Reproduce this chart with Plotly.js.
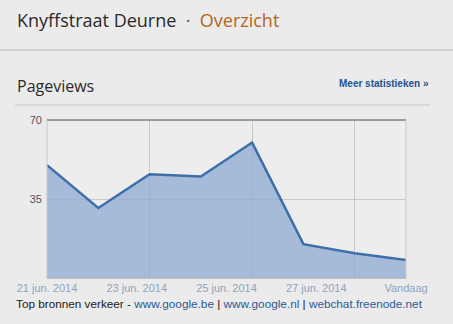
<!DOCTYPE html>
<html><head><meta charset="utf-8">
<script src="https://cdn.plot.ly/plotly-3.0.1.min.js"></script>
<style>html,body{margin:0;padding:0;background:#ebebeb;}#c{width:453px;height:324px;}</style>
</head><body><div id="c"></div>
<script>
var dayIndex = [0, 1, 2, 3, 4, 5, 6, 7];
var pageviews = [50, 31, 46, 45, 60, 15, 11, 8];
var tickPos = [0, 1.75, 3.5, 5.25, 7];
var tickLabels = ['21 jun. 2014', '23 jun. 2014', '25 jun. 2014', '27 jun. 2014', 'Vandaag'];
var gridPos = [2, 4, 6];
var yTicks = [35, 70];

var trace = {
  x: dayIndex, y: pageviews, type: 'scatter', mode: 'lines',
  fill: 'tozeroy', fillcolor: 'rgba(140,170,210,0.75)',
  line: {color: '#3f6fa8', width: 2.5}, hoverinfo: 'none'
};
var gridTrace = {x: gridPos, y: [0, 0, 0], xaxis: 'x2', type: 'scatter', mode: 'markers',
  marker: {opacity: 0}, hoverinfo: 'none'};
var H = 158, W = 359;
function py(pix) { return (324 - 46 - pix) / H; }
function px(pix) { return (pix - 47) / W; }
var layout = {
  width: 453, height: 324,
  paper_bgcolor: '#ebebeb', plot_bgcolor: '#ededed',
  margin: {l: 47, r: 47, t: 120, b: 46},
  showlegend: false,
  xaxis: {range: [0, 7], tickvals: tickPos, ticktext: tickLabels, tickangle: 0, showgrid: false,
    zeroline: false, showline: true, linecolor: '#bdbdbd',
    ticks: '', tickfont: {family: 'Liberation Sans, Arial', size: 11, color: '#8fa3bf'}, fixedrange: true},
  xaxis2: {range: [0, 7], overlaying: 'x', tickvals: gridPos, showticklabels: false, showgrid: true,
    gridcolor: '#c9c9c9', gridwidth: 1, zeroline: false, showline: false, ticks: '', fixedrange: true},
  yaxis: {range: [0, 70], tickvals: yTicks, showgrid: true, gridcolor: '#c9c9c9', zeroline: false,
    showline: false, ticks: '', ticklabelstandoff: 4, tickfont: {family: 'Liberation Sans, Arial', size: 11, color: '#555'}, fixedrange: true},
  shapes: [
    {type: 'line', xref: 'paper', yref: 'paper', x0: 0, x1: 1, y0: 1, y1: 1, line: {color: '#9a9a9a', width: 2}},
    {type: 'line', xref: 'paper', yref: 'paper', x0: 1, x1: 1, y0: 0, y1: 1, line: {color: '#c9c9c9', width: 1}},
    {type: 'line', xref: 'paper', yref: 'paper', x0: 0, x1: 0, y0: 0, y1: 1, line: {color: '#c9c9c9', width: 1}},
    {type: 'line', xref: 'paper', yref: 'paper', x0: px(0), x1: px(453), y0: py(50), y1: py(50), line: {color: '#c8c8c8', width: 1.5}},
    {type: 'line', xref: 'paper', yref: 'paper', x0: px(15), x1: px(430), y0: py(105), y1: py(105), line: {color: '#c8c8c8', width: 1}}
  ],
  annotations: [
    {xref: 'paper', yref: 'paper', x: px(15), y: py(20), xanchor: 'left', yanchor: 'middle', showarrow: false,
     text: 'Knyffstraat Deurne  <span style="color:#555">·</span>  <span style="color:#b5651d">Overzicht</span>',
     font: {family: 'Open Sans, Noto Sans, sans-serif', size: 18, color: '#2a2a2a'}},
    {xref: 'paper', yref: 'paper', x: px(15), y: py(86), xanchor: 'left', yanchor: 'middle', showarrow: false,
     text: 'Pageviews', font: {family: 'Open Sans, Noto Sans, sans-serif', size: 16, color: '#2a2a2a'}},
    {xref: 'paper', yref: 'paper', x: px(431), y: py(83), xanchor: 'right', yanchor: 'middle', showarrow: false,
     text: '<b>Meer statistieken »</b>', font: {family: 'Liberation Sans, Arial', size: 10, color: '#24508e'}},
    {xref: 'paper', yref: 'paper', x: px(14), y: py(303), xanchor: 'left', yanchor: 'middle', showarrow: false,
     text: 'Top bronnen verkeer - <span style="color:#2a5a96">www.google.be</span> | <span style="color:#2a5a96">www.google.nl</span> | <span style="color:#2a5a96">webchat.freenode.net</span>',
     font: {family: 'Liberation Sans, Arial', size: 11.75, color: '#1a1a1a'}}
  ]
};
Plotly.newPlot('c', [trace, gridTrace], layout, {displayModeBar: false, staticPlot: true});
</script></body></html>
